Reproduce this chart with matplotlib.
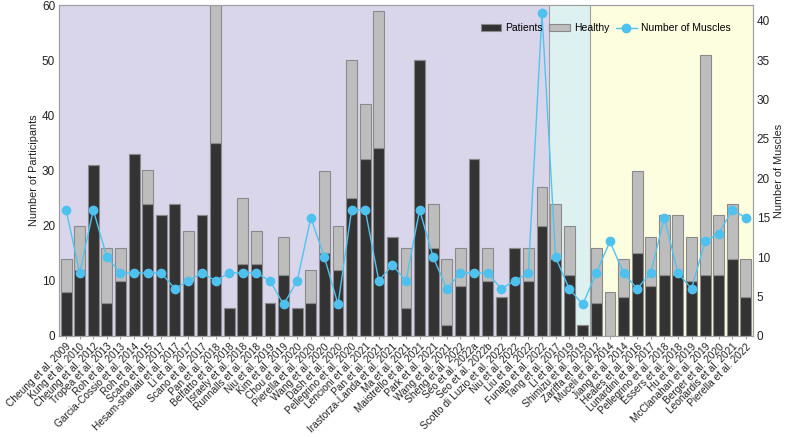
import matplotlib
matplotlib.use("Agg")
import matplotlib.pyplot as plt
import numpy as np

plt.rcParams['font.family'] = ['Liberation Sans', 'DejaVu Sans']

studies = [
    "Cheung et al. 2009", "Kung et al. 2010", "Cheung et al. 2012", "Tropea et al. 2013",
    "Roh et al. 2013", "Garcia-Cossio et al. 2014", "Roh et al. 2015", "Scano et al. 2017",
    "Hesam-shariati et al. 2017", "Li et al. 2017", "Scano et al. 2017", "Pan et al. 2018",
    "Belfatto et al. 2018", "Israely et al. 2018", "Runnalls et al. 2018", "Niu et al. 2019",
    "Kim et al. 2019", "Chou et al. 2020", "Pierella et al. 2020", "Wang et al. 2020",
    "Dash et al. 2020", "Pellegrino et al. 2020", "Lencioni et al. 2021", "Pan et al. 2021",
    "Irastorza-Landa et al. 2021", "Ma et al. 2021", "Maistrello et al. 2021", "Park et al. 2021",
    "Wang et al. 2021", "Sheng et al. 2022", "Seo et al. 2022a", "Seo et al. 2022b",
    "Scotto di Luzio et al. 2022", "Niu et al. 2022", "Liu et al. 2022", "Funato et al. 2022",
    "Tang et al. 2017", "Li et al. 2019", "Shimizu et al. 2019",
    "Zariffa et al. 2012", "Muceli et al. 2014", "Jiang et al. 2014", "Heales et al. 2016",
    "Lunardini et al. 2017", "Pellegrino et al. 2018", "Essers et al. 2018", "Hu et al. 2019",
    "McClanahan et al. 2019", "Berger et al. 2020", "Leonardis et al. 2021", "Pierella et al. 2022",
]

patients = [8, 12, 31, 6, 10, 33, 24, 22, 24, 10, 22, 35, 5, 13, 13, 6, 11, 5,
            6, 15, 12, 25, 32, 34, 18, 5, 50, 16, 2, 9, 32, 10, 7, 16, 10, 20,
            14, 11, 2,
            6, 0, 7, 15, 9, 11, 11, 10, 11, 11, 14, 7]

healthy = [6, 8, 0, 10, 6, 0, 6, 0, 0, 9, 0, 25, 0, 12, 6, 0, 7, 0,
           6, 15, 8, 25, 10, 25, 0, 11, 0, 8, 12, 7, 0, 6, 0, 0, 6, 7,
           10, 9, 0,
           10, 8, 7, 15, 9, 11, 11, 8, 40, 11, 10, 7]

muscles = [16, 8, 16, 10, 8, 8, 8, 8, 6, 7, 8, 7, 8, 8, 8, 7, 4, 7,
           15, 10, 4, 16, 16, 7, 9, 7, 16, 10, 6, 8, 8, 8, 6, 7, 8, 41,
           10, 6, 4,
           8, 12, 8, 6, 8, 15, 8, 6, 12, 13, 16, 15]

# group sizes for shaded backgrounds
group_sizes = [36, 3, 12]
group_colors = ['#d9d6ec', '#ddf1f0', '#fdfde0']

W, H = 789, 437
fig = plt.figure(figsize=(W / 100, H / 100), dpi=100)
ax1 = fig.add_axes([59.3 / W, 1 - 336 / H, 693.4 / W, 331 / H])
ax2 = ax1.twinx()

x = np.arange(len(studies))
start = -0.5
for i, (n, c) in enumerate(zip(group_sizes, group_colors)):
    ax1.axvspan(start, start + n, color=c, zorder=0, lw=0)
    start += n
    if i < len(group_sizes) - 1:
        ax1.axvline(start, color='#a0a0a0', lw=0.8, zorder=1)

bw = 0.8
ax1.bar(x, patients, width=bw, color='#333333', edgecolor='#8a8a8a', linewidth=0.8,
        label='Patients', zorder=2)
ax1.bar(x, healthy, width=bw, bottom=patients, color='#bdbdbd', edgecolor='#8a8a8a',
        linewidth=0.8, label='Healthy', zorder=2)

ax2.plot(x, muscles, color='#52c3ef', lw=1.0, marker='o', markersize=6,
         markerfacecolor='#4fc1ee', markeredgecolor='#4fc1ee', label='Number of Muscles')

ax1.set_xlim(-0.5, len(studies) - 0.5)
ax1.set_ylim(0, 60)
ax2.set_ylim(0, 42)
ax1.set_yticks(range(0, 61, 10))
ax2.set_yticks(range(0, 41, 5))

ax1.set_xticks(x)
ax1.set_xticklabels(studies, rotation=45, ha='right', va='top', rotation_mode='anchor',
                    fontsize=7.3, color='#222222')
ax1.tick_params(axis='x', length=2, width=0.6, color='#888888', pad=2)
ax1.tick_params(axis='y', length=0, labelsize=8.5, pad=3, labelcolor='#222222')
ax2.tick_params(axis='y', length=0, labelsize=8.5, pad=3, labelcolor='#222222')

ax1.set_ylabel('Number of Participants', fontsize=7.8, color='#222222', labelpad=2)
ax2.set_ylabel('Number of Muscles', fontsize=7.8, color='#222222', labelpad=3)

for ax in (ax1, ax2):
    for s in ax.spines.values():
        s.set_color('#a0a0a0')
        s.set_linewidth(0.8)

h1, l1 = ax1.get_legend_handles_labels()
h2, l2 = ax2.get_legend_handles_labels()
leg = ax2.legend(h1 + h2, l1 + l2, loc='center', bbox_to_anchor=(0.788, 0.93), ncol=3,
                 frameon=False, fontsize=7.5, handlelength=2.0, handletextpad=0.4,
                 columnspacing=0.6, borderpad=0.2)

fig.savefig('out.png', dpi=100)
